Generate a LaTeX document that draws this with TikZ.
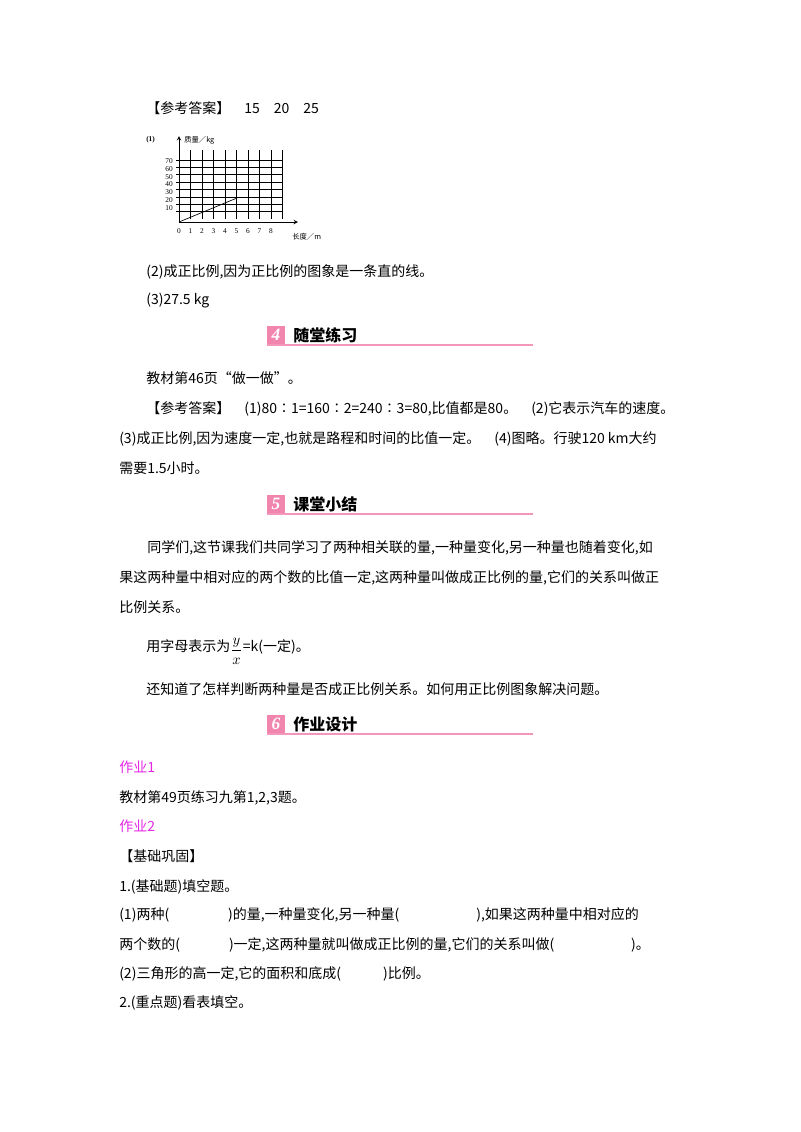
\documentclass[tikz,border=0pt]{standalone}
\usepackage{fontspec}
\setmainfont{Noto Sans CJK SC}
\newfontfamily\latinf{Liberation Serif}
\definecolor{pinkc}{RGB}{236,80,140}
\definecolor{mag}{RGB}{230,40,230}
\begin{document}
\begin{tikzpicture}[x=0.75pt,y=-0.75pt,
  t/.style={anchor=base west,inner sep=0pt,font=\fontsize{10.5}{12}\selectfont},
  hd/.style={anchor=base west,inner sep=0pt,font=\fontsize{12}{14}\selectfont\bfseries},
  gl/.style={line width=0.5pt},
  sm/.style={inner sep=0pt,font=\fontsize{5.5}{6}\selectfont\latinf}]
\useasboundingbox (0,0) rectangle (800,1132);
\fill[white] (0,0) rectangle (800,1132);
\node[t] (a1) at (146,113) {【参考答案】\quad 15\quad 20\quad 25};
% graph
\node[sm,anchor=west] (g0) at (146,140) {\bfseries(1)};
\foreach \i in {1,...,9} \draw[gl] (179+\i*11.5,150) -- (179+\i*11.5,219);
\foreach \k in {0,...,7} \draw[gl] (176,160+\k*7.4) -- (283,160+\k*7.4);
\draw[gl,->,>=stealth] (179,222) -- (179,136);
\draw[gl,->,>=stealth] (179,222) -- (298,222);
\foreach \v/\k in {70/0,60/1,50/2,40/3,30/4,20/5,10/6} \node[sm,anchor=east] at (173,160+\k*7.8+1) {\v};
\foreach \i in {0,...,8} \node[sm] at (179+\i*11.5,231) {\i};
\draw[gl] (179,222) -- (237,198);
\node[sm,anchor=west,font=\fontsize{5.5}{6}\selectfont] (gy) at (184,140) {质量／kg};
\node[sm,anchor=west,font=\fontsize{5.5}{6}\selectfont] (gx) at (292,237) {长度／m};
\node[t] (l2) at (146,276) {(2)成正比例,因为正比例的图象是一条直的线。};
\node[t] (l3) at (146,304) {(3)27.5\ kg};
\foreach \n/\y/\txt in {4/335/随堂练习,5/504/课堂小结,6/724/作业设计}{
  \fill[pinkc!70] (267,\y-9) rectangle (285,\y+9);
  \node[inner sep=0pt,text=white,font=\fontsize{13}{14}\selectfont\bfseries\itshape\latinf] at (276,\y) {\n};
  \node[hd,anchor=west] at (293,\y) {\txt};
  \draw[pinkc!60,line width=0.8pt] (267,\y+10) -- (533,\y+10);
}
\node[t] (b1) at (146,383) {教材第46页“做一做”。};
\node[t] (b2) at (146,413) {【参考答案】\quad (1)80∶1=160∶2=240∶3=80,比值都是80。\quad (2)它表示汽车的速度。};
\node[t] (b3) at (119,443) {(3)成正比例,因为速度一定,也就是路程和时间的比值一定。\quad (4)图略。行驶120 km大约};
\node[t] (b4) at (119,473) {需要1.5小时。};
\node[t] (c1) at (119,552) {\qquad 同学们,这节课我们共同学习了两种相关联的量,一种量变化,另一种量也随着变化,如};
\node[t] (c2) at (119,582) {果这两种量中相对应的两个数的比值一定,这两种量叫做成正比例的量,它们的关系叫做正};
\node[t] (c3) at (119,612) {比例关系。};
\node[t] (c4) at (146,651) {用字母表示为};
\node[inner sep=0pt,anchor=west,font=\fontsize{11}{12}\selectfont\latinf\itshape] (c4f) at (c4.base east) {$\displaystyle\frac{y}{x}$};
\node[t] (c4b) at ([yshift=0pt]c4f.east |- c4.base) {=\textit{k}(一定)。};
\node[t] (c5) at (146,694) {还知道了怎样判断两种量是否成正比例关系。如何用正比例图象解决问题。};
\node[t,text=mag] (d1) at (119,772) {作业1};
\node[t] (d2) at (119,802) {教材第49页练习九第1,2,3题。};
\node[t,text=mag] (d3) at (119,831) {作业2};
\node[t] (d4) at (119,861) {【基础巩固】};
\node[t] (d5) at (119,891) {1.(基础题)填空题。};
\node[t] (d6) at (119,919) {(1)两种(\hspace{4.2em})的量,一种量变化,另一种量(\hspace{5.5em}),如果这两种量中相对应的};
\node[t] (d7) at (119,949) {两个数的(\hspace{3.5em})一定,这两种量就叫做成正比例的量,它们的关系叫做(\hspace{5.5em})。};
\node[t] (d8) at (119,978) {(2)三角形的高一定,它的面积和底成(\hspace{3em})比例。};
\node[t] (d9) at (119,1007) {2.(重点题)看表填空。};
\end{tikzpicture}
\end{document}
